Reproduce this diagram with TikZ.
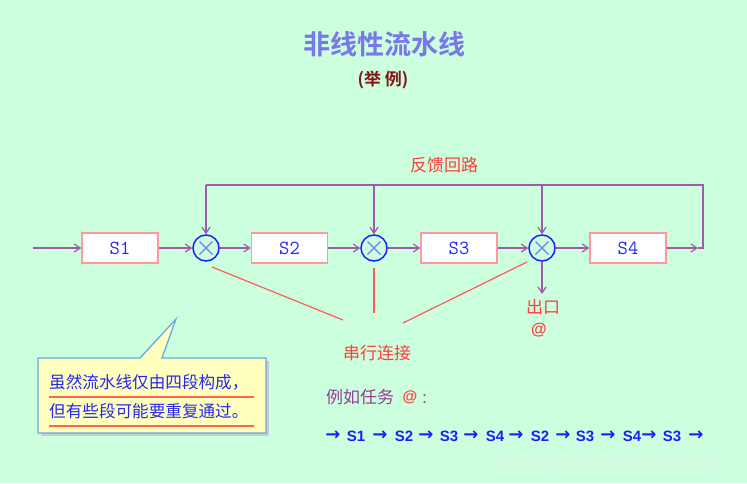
\documentclass[tikz,border=0pt]{standalone}
\usepackage{fontspec}
\newfontfamily\cjk{Noto Sans CJK SC}
\newfontfamily\cjkb{Noto Sans CJK SC Bold}
\newfontfamily\lsans{Liberation Sans}
\newfontfamily\dv{DejaVu Sans}
\usetikzlibrary{arrows.meta}
\definecolor{bg}{RGB}{204,255,221}
\definecolor{lin}{RGB}{160,90,170}
\definecolor{pinkb}{RGB}{255,150,160}
\definecolor{stxt}{RGB}{40,40,240}
\definecolor{cblue}{RGB}{30,30,255}
\definecolor{xblue}{RGB}{120,120,255}
\definecolor{redt}{RGB}{255,60,60}
\definecolor{redl}{RGB}{255,90,90}
\definecolor{titc}{RGB}{120,120,235}
\definecolor{darkred}{RGB}{130,20,20}
\definecolor{callf}{RGB}{255,255,190}
\definecolor{callb}{RGB}{100,170,230}
\definecolor{undl}{RGB}{255,100,80}
\definecolor{purt}{RGB}{150,60,150}
\definecolor{wmark}{RGB}{225,242,232}
\tikzset{
  stage/.style={draw=pinkb,line width=1.3pt,fill=white,minimum width=76pt,minimum height=30pt,inner sep=0pt,text=stxt,font=\ttfamily\fontsize{20}{20}\selectfont},
  mult/.style={circle,draw=cblue,line width=1.5pt,minimum size=26pt,inner sep=0pt,path picture={\draw[xblue,line width=1.1pt] (path picture bounding box.north west)++(6.5pt,-6.5pt) -- ++(13pt,-13pt) (path picture bounding box.north east)++(-6.5pt,-6.5pt) -- ++(-13pt,-13pt);}},
  conn/.style={draw=lin,line width=1.5pt,-{Straight Barb[length=6pt,width=8pt,line width=1.2pt]}},
  plain/.style={draw=lin,line width=1.5pt},
  redline/.style={draw=redl,line width=1.2pt},
  redlab/.style={text=redt,font=\cjk\fontsize{17}{17}\selectfont,inner sep=0pt},
  seqs/.style={text=cblue,font=\lsans\bfseries\fontsize{15}{15}\selectfont,inner sep=0pt},
  seqa/.style={text=cblue,font=\dv\bfseries\fontsize{18}{18}\selectfont,inner sep=0pt},
}
\begin{document}
\begin{tikzpicture}[x=1pt,y=-1pt]
\fill[bg] (0,0) rectangle (747,483);
\useasboundingbox (0,0) rectangle (747,483);
% title
\node[text=titc,font=\cjkb\fontsize{27}{27}\selectfont,inner sep=0pt] (title) at (384,44) {非线性流水线};
\node[text=darkred,font=\cjkb\fontsize{17}{17}\selectfont,inner sep=0pt] (sub) at (383,80) {(举\ 例)};
% stages
\node[stage] (s1) at (120,248) {S1};
\node[stage] (s2) at (289.5,248) {S2};
\node[stage] (s3) at (459,248) {S3};
\node[stage] (s4) at (628,248) {S4};
\node[mult] (c1) at (206,248) {};
\node[mult] (c2) at (374,248) {};
\node[mult] (c3) at (542,248) {};
\coordinate (in) at (33,248);
\coordinate (end) at (698,248);
\coordinate (cr) at (703,248);
\coordinate (tr) at (703,185);
\coordinate (t1) at (206,185);
\coordinate (t2) at (374,185);
\coordinate (t3) at (542,185);
\coordinate (out) at (542,294);
% main connectors
\draw[conn] (in) -- (s1.west);
\draw[conn] (s1.east) -- (c1.west);
\draw[conn] (c1.east) -- (s2.west);
\draw[conn] (s2.east) -- (c2.west);
\draw[conn] (c2.east) -- (s3.west);
\draw[conn] (s3.east) -- (c3.west);
\draw[conn] (c3.east) -- (s4.west);
\draw[conn] (s4.east) -- (end);
\draw[plain] (end) -- (cr) -- (tr) -- (t1);
\draw[conn] (t1) -- (c1.north);
\draw[conn] (t2) -- (c2.north);
\draw[conn] (t3) -- (c3.north);
\draw[conn] (c3.south) -- (out);
% labels
\node[redlab] (fb) at (444,165) {反馈回路};
\node[redlab] (exit) at (543,307) {出口};
\node[text=redt,font=\lsans\bfseries\fontsize{16}{16}\selectfont,inner sep=0pt] (at1) at (539,330) {@};
\node[redlab] (ser) at (377,353) {串行连接};
% red lines
\coordinate (r1a) at (212,267); \coordinate (r1b) at (343,320);
\coordinate (r2a) at (374,268); \coordinate (r2b) at (374,313);
\coordinate (r3a) at (527,262); \coordinate (r3b) at (403,323);
\draw[redline] (r1a) -- (r1b);
\draw[redline] (r2a) -- (r2b);
\draw[redline] (r3a) -- (r3b);
% callout
\fill[gray!40] (41,361) -- (269,361) -- (269,436) -- (41,436) -- cycle;
\draw[fill=callf,draw=callb,line width=1.3pt] (38,358) -- (140,358) -- (176,319) -- (162,358) -- (266,358) -- (266,433) -- (38,433) -- cycle;
\node[text=stxt,font=\cjk\fontsize{16.6}{16.6}\selectfont,inner sep=0pt,anchor=west] (cl1) at (49,382) {虽然流水线仅由四段构成，};
\node[text=stxt,font=\cjk\fontsize{16.6}{16.6}\selectfont,inner sep=0pt,anchor=west] (cl2) at (49,411) {但有些段可能要重复通过。};
\draw[undl,line width=1.8pt] (49,397) -- (254,397);
\draw[undl,line width=1.8pt] (49,426) -- (254,426);
% example
\node[text=purt,font=\cjk\fontsize{17}{17}\selectfont,inner sep=0pt,anchor=west] (ex) at (326,397) {例如任务};
\node[text=redt,font=\lsans\bfseries\fontsize{15}{15}\selectfont,inner sep=0pt] (at2) at (410,397) {@};
\node[text=purt,font=\cjk\fontsize{14}{14}\selectfont,inner sep=0pt] (colon) at (428,399) {：};
% sequence
\foreach \x in {333,380,426,471,516,563,608,649,696} \node[seqa] at (\x,436) {→};
\node[seqs] at (356,436) {S1};
\node[seqs] at (404,436) {S2};
\node[seqs] at (449,436) {S3};
\node[seqs] at (495,436) {S4};
\node[seqs] at (540,436) {S2};
\node[seqs] at (585,436) {S3};
\node[seqs] at (632,436) {S4};
\node[seqs] at (672,436) {S3};
% watermark
\node[text=wmark,font=\lsans\fontsize{14}{14}\selectfont,inner sep=0pt] (wm) at (607,464) {https://blog.csdn.net/sinat\_36945592};
\end{tikzpicture}
\end{document}
